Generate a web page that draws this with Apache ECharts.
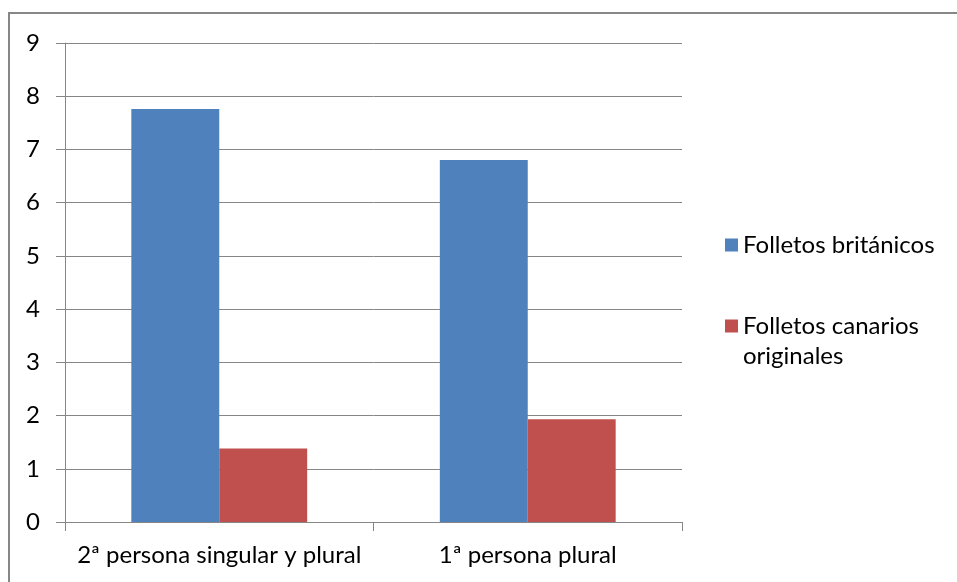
<!DOCTYPE html>
<html>
<head>
<meta charset="utf-8">
<script src="https://cdn.jsdelivr.net/npm/echarts@6/dist/echarts.min.js"></script>
<style>
  html, body { margin: 0; padding: 0; background: #fff; }
  #chart { width: 957px; height: 582px; }
</style>
</head>
<body>
<div id="chart"></div>
<script>
// Categories on the horizontal axis
const categories = ['2ª persona singular y plural', '1ª persona plural'];
// Series names and values
const seriesNames = ['Folletos británicos', 'Folletos canarios originales'];
const britanicos = [7.76, 6.8];
const canarios = [1.38, 1.93];
// Value axis range
const yMin = 0, yMax = 9, yStep = 1;

const FONT = 'Lato';
const FS = 24;
const axisGray = '#868686';

const chart = echarts.init(document.getElementById('chart'), null, { renderer: 'canvas' });

chart.setOption({
  animation: false,
  backgroundColor: '#ffffff',
  textStyle: { fontFamily: FONT },
  graphic: [{
    type: 'rect',
    shape: { x: 9, y: 13, width: 1000, height: 620 },
    style: { fill: 'none', stroke: '#878787', lineWidth: 2 },
    silent: true
  }],
  grid: { left: 65, right: 275, top: 43, bottom: 60, containLabel: false },
  legend: [{
    orient: 'vertical',
    left: 720, top: 228,
    itemWidth: 13, itemHeight: 13,
    icon: 'rect',
    data: [seriesNames[0]],
    textStyle: { fontFamily: FONT, fontSize: FS, color: '#000' }
  }, {
    orient: 'vertical',
    left: 720, top: 276,
    itemWidth: 13, itemHeight: 13,
    icon: 'rect',
    data: [seriesNames[1]],
    // leading blank line keeps the first text line level with the swatch
    formatter: () => '\nFolletos canarios\noriginales',
    textStyle: { fontFamily: FONT, fontSize: FS, color: '#000', lineHeight: 30 }
  }],
  xAxis: {
    type: 'category',
    data: categories,
    axisLine: { lineStyle: { color: axisGray, width: 1 } },
    axisTick: { show: true, length: 9, alignWithLabel: false, lineStyle: { color: axisGray } },
    axisLabel: { color: '#000', fontFamily: FONT, fontSize: FS, margin: 21, interval: 0 },
    splitLine: { show: false }
  },
  yAxis: {
    type: 'value',
    min: yMin, max: yMax, interval: yStep,
    axisLine: { show: true, lineStyle: { color: axisGray, width: 1 } },
    axisTick: { show: true, length: 9, lineStyle: { color: axisGray } },
    axisLabel: { color: '#000', fontFamily: FONT, fontSize: FS, margin: 25 },
    splitLine: { show: true, lineStyle: { color: axisGray, width: 1 } }
  },
  series: [{
    name: seriesNames[0],
    type: 'bar',
    data: britanicos,
    barGap: '0%',
    barCategoryGap: '43%',
    itemStyle: { color: '#4F81BD' }
  }, {
    name: seriesNames[1],
    type: 'bar',
    data: canarios,
    barGap: '0%',
    barCategoryGap: '43%',
    itemStyle: { color: '#C0504D' }
  }]
});
</script>
</body>
</html>
